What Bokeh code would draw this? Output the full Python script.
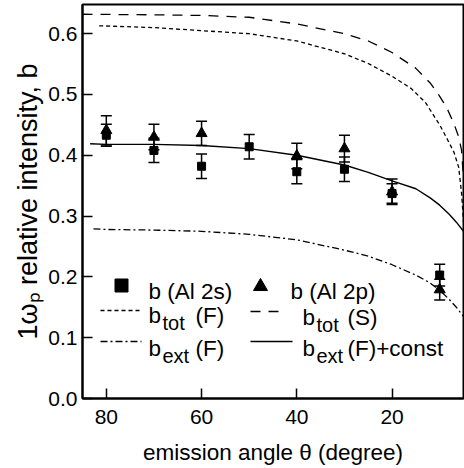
import math
from bokeh.plotting import figure
from bokeh.models import Range1d, ColumnDataSource, Whisker, TeeHead, Label, FixedTicker, CustomJSTickFormatter
from bokeh.embed import file_html
from bokeh.resources import INLINE

# ---- data ----
angles_2s = [80, 70, 60, 50, 40, 30, 20, 10]
b_2s = [0.433, 0.408, 0.382, 0.414, 0.373, 0.377, 0.337, 0.203]
err_2s = [0.018, 0.020, 0.020, 0.020, 0.020, 0.020, 0.016, 0.018]

angles_2p = [80, 70, 60, 40, 30, 20, 10]
b_2p = [0.441, 0.430, 0.436, 0.399, 0.411, 0.340, 0.179]
err_2p = [0.024, 0.021, 0.020, 0.021, 0.022, 0.021, 0.017]

theta_tot_F = [81.5, 70, 60, 50, 40, 30, 25, 20, 16, 13, 10, 8.5, 7, 6, 5.4, 5.0]
b_tot_F = [0.613, 0.610, 0.605, 0.600, 0.588, 0.567, 0.551, 0.530, 0.510, 0.487, 0.450, 0.428, 0.405, 0.380, 0.337, 0.290]

theta_tot_S = [85, 70, 60, 50, 40, 30, 25, 20, 15, 12, 10, 8.5, 7, 6, 5.4, 5.0]
b_tot_S = [0.632, 0.631, 0.630, 0.627, 0.616, 0.600, 0.588, 0.569, 0.543, 0.519, 0.497, 0.478, 0.452, 0.430, 0.408, 0.360]

theta_ext = [82.7, 80, 70, 60, 50, 40, 30, 25, 20, 15, 12, 10, 8, 6.5, 5]
b_ext_F = [0.279, 0.278, 0.277, 0.275, 0.270, 0.261, 0.244, 0.234, 0.220, 0.203, 0.190, 0.178, 0.163, 0.150, 0.135]

theta_fit = [83.4, 80, 70, 60, 50, 40, 30, 25, 20, 15, 12, 10, 8, 6.5, 5]
b_fit = [0.419, 0.418, 0.418, 0.416, 0.411, 0.400, 0.384, 0.372, 0.358, 0.345, 0.330, 0.318, 0.303, 0.290, 0.275]

x_ticks = [80, 60, 40, 20]
y_ticks = [0.0, 0.1, 0.2, 0.3, 0.4, 0.5, 0.6]

# ---- layout ----
X0, X1 = 85, 5
Y0, Y1 = 0.0, 0.648
W, H = 464, 468
PL, PR, PT, PB = 82, 463, 4, 398  # frame in picture pixels


def px_x(px):
    return X0 + (px - PL) * (X1 - X0) / (PR - PL)


def px_y(py):
    return Y0 + (PB - py) * (Y1 - Y0) / (PB - PT)


FONT = "Liberation Sans"

p = figure(width=W, height=H, x_range=Range1d(X0, X1), y_range=Range1d(Y0, Y1),
           output_backend="svg", toolbar_location=None,
           min_border_left=PL, min_border_right=W - PR, min_border_top=PT,
           min_border_bottom=H - PB)
p.grid.visible = False
p.outline_line_color = "black"
p.outline_line_width = 2
p.background_fill_color = "white"
p.border_fill_color = "white"

for ax in (p.xaxis[0], p.yaxis[0]):
    ax.axis_line_width = 2
    ax.axis_line_color = "black"
    ax.major_tick_in = 10
    ax.major_tick_out = 0
    ax.major_tick_line_width = 1.5
    ax.minor_tick_line_color = None
    ax.major_label_text_font = FONT
    ax.major_label_text_font_size = "21px"
    ax.major_label_text_color = "black"
    ax.axis_label_text_font = FONT
    ax.axis_label_text_font_style = "normal"
    ax.axis_label_text_color = "black"

p.xaxis[0].ticker = FixedTicker(ticks=x_ticks)
p.yaxis[0].ticker = FixedTicker(ticks=y_ticks)
p.yaxis[0].formatter = CustomJSTickFormatter(code="return tick.toFixed(1);")
p.xaxis[0].major_label_standoff = 11
p.yaxis[0].major_label_standoff = 5
p.xaxis[0].axis_label = "emission angle \u03b8 (degree)"
p.xaxis[0].axis_label_text_font_size = "22.5px"
p.xaxis[0].axis_label_standoff = 13
p.yaxis[0].axis_label = "1\u03c9\u209a relative intensity, b"
p.yaxis[0].axis_label_text_font_size = "27px"
p.yaxis[0].axis_label_standoff = 2

# ---- curves ----
p.line(theta_tot_F, b_tot_F, line_color="black", line_width=1.3, line_dash="4 3")
p.line(theta_tot_S, b_tot_S, line_color="black", line_width=1.3, line_dash="10 8")
p.line(theta_ext, b_ext_F, line_color="black", line_width=1.3, line_dash="7 3 2 3")
p.line(theta_fit, b_fit, line_color="black", line_width=1.4)

# ---- data points with error bars ----
src_s = ColumnDataSource(dict(x=angles_2s, y=b_2s,
                              lo=[v - e for v, e in zip(b_2s, err_2s)],
                              hi=[v + e for v, e in zip(b_2s, err_2s)]))
src_p = ColumnDataSource(dict(x=angles_2p, y=b_2p,
                              lo=[v - e for v, e in zip(b_2p, err_2p)],
                              hi=[v + e for v, e in zip(b_2p, err_2p)]))
for src in (src_s, src_p):
    w = Whisker(source=src, base="x", lower="lo", upper="hi", dimension="height",
                line_color="black", line_width=1.5,
                upper_head=TeeHead(size=11, line_color="black", line_width=1.5),
                lower_head=TeeHead(size=11, line_color="black", line_width=1.5))
    p.add_layout(w)
p.scatter("x", "y", source=src_s, marker="square", size=8, color="black")
p.scatter("x", "y", source=src_p, marker="triangle", size=11, color="black")

# ---- legend (manual) ----
p.scatter([px_x(121)], [px_y(285)], marker="square", size=13, color="black")
p.scatter([px_x(260)], [px_y(286)], marker="triangle", size=14, color="black")
p.line([px_x(100), px_x(141)], [px_y(310), px_y(310)], line_color="black", line_width=1.3, line_dash="4 3")
p.line([px_x(250), px_x(286)], [px_y(311), px_y(311)], line_color="black", line_width=1.3, line_dash="10 8")
p.line([px_x(100), px_x(141)], [px_y(341), px_y(341)], line_color="black", line_width=1.3, line_dash="7 3 2 3")
p.line([px_x(250), px_x(292)], [px_y(341), px_y(341)], line_color="black", line_width=1.4)


def lab(text, px, py, size="22.5px"):
    p.add_layout(Label(x=px_x(px), y=px_y(py), text=text, x_units="data", y_units="data",
                       text_font=FONT, text_font_size=size, text_color="black",
                       text_align="left", text_baseline="alphabetic"))


lab("b (Al 2s)", 148, 291)
lab("b (Al 2p)", 290, 291)
lab("b", 148, 315)
lab("tot", 162, 322, size="20px")
lab("(F)", 195, 315)
lab("b", 302, 317)
lab("tot", 316, 324, size="20px")
lab("(S)", 347, 317)
lab("b", 148, 348)
lab("ext", 162, 355, size="20px")
lab("(F)", 195, 348)
lab("b", 302, 348)
lab("ext", 316, 355, size="20px")
lab("(F)+const", 347, 348)

open("out.html", "w").write(file_html(p, INLINE))
